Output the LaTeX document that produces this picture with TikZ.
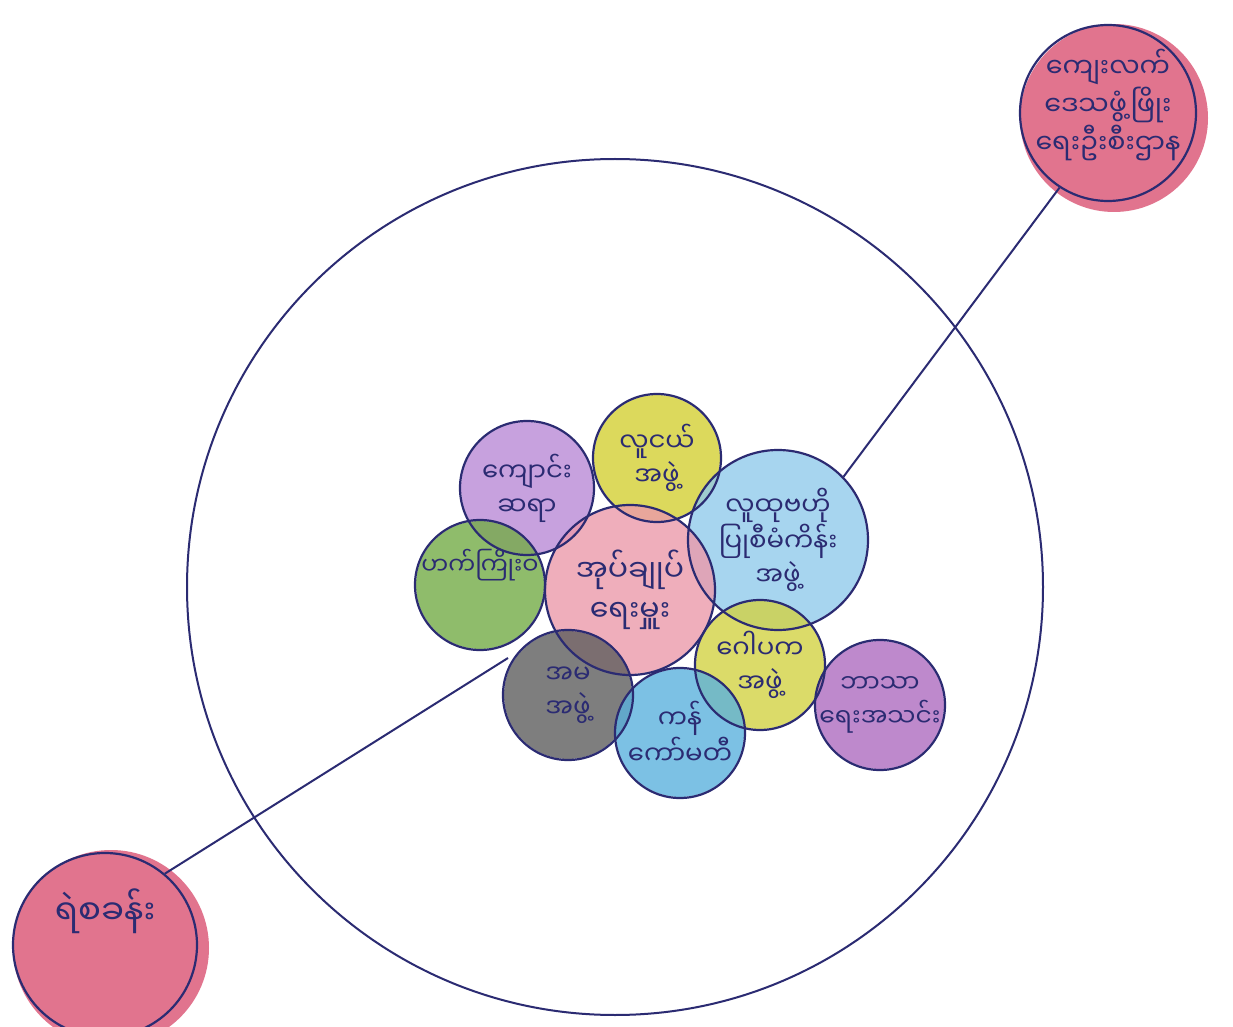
\documentclass[tikz,border=0pt]{standalone}
\usepackage{fontspec}
\newfontfamily\mya[Script=Myanmar]{Noto Sans Myanmar UI}
\usetikzlibrary{backgrounds}
\definecolor{pen}{HTML}{2B2B72}
\definecolor{cred}{HTML}{DA5272}
\definecolor{cpurA}{HTML}{B98AD6}
\definecolor{cyel}{HTML}{D4D034}
\definecolor{cblue}{HTML}{92CBEC}
\definecolor{cgreen}{HTML}{74AC46}
\definecolor{cpink}{HTML}{EC9AAB}
\definecolor{cyel2}{HTML}{D2D244}
\definecolor{cpurB}{HTML}{AE6CC0}
\definecolor{cgray}{HTML}{5E5E5E}
\definecolor{clblue}{HTML}{5CB2DE}
\tikzset{
  bub/.style={circle, draw=pen, line width=1.1pt, inner sep=0pt},
  lab/.style={text=pen, align=center, inner sep=0pt, font=\mya\fontsize{13}{17}\selectfont},
  txt/.style={label={[lab]center:#1}},
  link/.style={draw=pen, line width=1pt},
  crayon/.style={fill=#1, fill opacity=0.8},
}
\begin{document}
\begin{tikzpicture}[x=0.5pt,y=-0.5pt]
\useasboundingbox (0,0) rectangle (1233,1027);
% village boundary
\node[bub, line width=1pt, minimum size=428pt] (village) at (615,587) {};
% outside institutions
\node[bub, minimum size=88pt, label={[lab, yshift=4pt, font=\mya\fontsize{13.5}{19}\selectfont]center:ကျေးလက်\\ဒေသဖွံ့ဖြိုး\\ရေးဦးစီးဌာန}] (dev) at (1108,113) {};
\node[bub, minimum size=92pt, label={[lab, yshift=17pt, font=\mya\fontsize{17}{22}\selectfont]center:ရဲစခန်း}] (police) at (105,945) {};
% inside institutions
\node[bub, minimum size=67pt, txt={ကျောင်း\\ဆရာ}] (school) at (527,488) {};
\node[bub, minimum size=64pt, txt={လူငယ်\\အဖွဲ့}] (youth) at (657,458) {};
\node[bub, minimum size=90pt, txt={လူထုဗဟို\\ပြုစီမံကိန်း\\အဖွဲ့}] (comm) at (778,540) {};
\node[bub, minimum size=65pt, label={[lab, yshift=10pt, font=\mya\fontsize{12}{16}\selectfont]center:ဟက်ကြိုးဝ}] (grp) at (480,585) {};
\node[bub, minimum size=85pt, label={[lab, font=\mya\fontsize{15}{20}\selectfont]center:အုပ်ချုပ်\\ရေးမှူး}] (admin) at (630,590) {};
\node[bub, minimum size=65pt, txt={ဂေါပက\\အဖွဲ့}] (trust) at (760,665) {};
\node[bub, minimum size=65pt, label={[lab, font=\mya\fontsize{12.5}{17}\selectfont]center:ဘာသာ\\ရေးအသင်း}] (relig) at (880,705) {};
\node[bub, minimum size=65pt, txt={အမ\\အဖွဲ့}] (amah) at (568,695) {};
\node[bub, minimum size=65pt, txt={ကန်\\ကော်မတီ}] (pond) at (680,733) {};
\coordinate (pend) at (508,658);
% connectors
\draw[link] (dev.237) -- (comm.44);
\draw[link] (police.50) -- (pend);
% crayon fills
\begin{pgfonlayer}{background}
\fill[white] (0,0) rectangle (1233,1027);
\fill[crayon=cred] ([shift={(6,5)}]dev.center) circle[radius=94];
\fill[crayon=cred] ([shift={(6,3)}]police.center) circle[radius=98];
\fill[crayon=cpurA] (school.center) circle[radius=66];
\fill[crayon=cyel] (youth.center) circle[radius=63];
\fill[crayon=cblue] (comm.center) circle[radius=89];
\fill[crayon=cgreen] (grp.center) circle[radius=64];
\fill[crayon=cpink] (admin.center) circle[radius=84];
\fill[crayon=cyel2] (trust.center) circle[radius=64];
\fill[crayon=cpurB] (relig.center) circle[radius=64];
\fill[crayon=cgray] (amah.center) circle[radius=64];
\fill[crayon=clblue] (pond.center) circle[radius=64];
\end{pgfonlayer}
\end{tikzpicture}
\end{document}
